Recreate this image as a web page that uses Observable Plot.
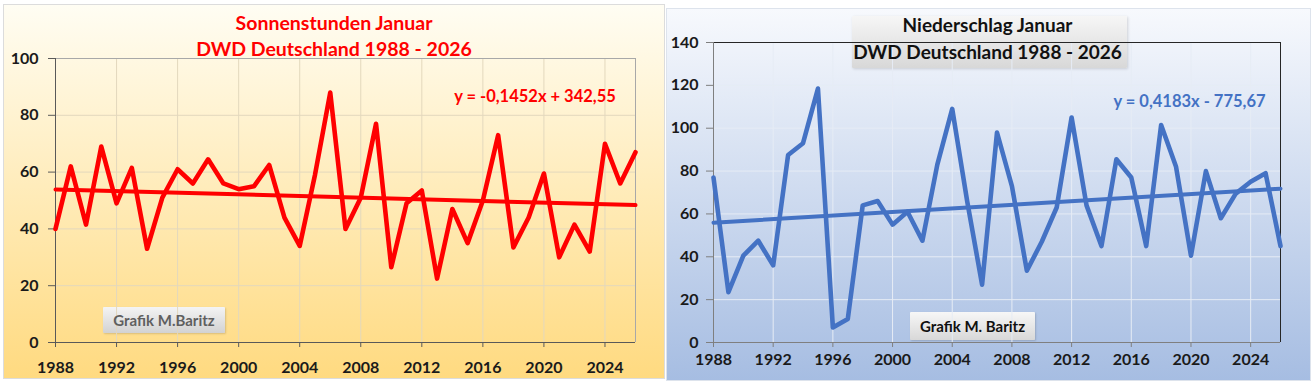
<!DOCTYPE html>
<html><head><meta charset="utf-8">
<script src="https://cdn.jsdelivr.net/npm/d3@7"></script>
<script src="https://cdn.jsdelivr.net/npm/@observablehq/plot@0.6"></script>
<style>
body{margin:0;width:1311px;height:382px;background:#fff;position:relative;overflow:hidden;font-family:Lato,"Open Sans",sans-serif;}
.panel{position:absolute;}
.panel svg{position:absolute;left:0;top:0;}
#p1{left:4px;top:5px;width:660px;height:373px;background:linear-gradient(#fffdf3,#ffda80);box-shadow:0 0 0 1px #dcdcdc;}
#p2{left:667px;top:9px;width:643px;height:371px;background:linear-gradient(#f7f9fd,#a6bde2);box-shadow:0 0 0 1px #dde3ec;}
.box{position:absolute;border-radius:1px;}
</style></head><body>
<div id="p1" class="panel"></div>
<div id="p2" class="panel"></div>
<script>
const years = [1988,1989,1990,1991,1992,1993,1994,1995,1996,1997,1998,1999,2000,2001,2002,2003,2004,2005,2006,2007,2008,2009,2010,2011,2012,2013,2014,2015,2016,2017,2018,2019,2020,2021,2022,2023,2024,2025,2026];
const sunshine = [40,62,41.5,69,49,61.5,33,51,61,56,64.5,56,54,55,62.5,44,34,59,88,40,51,77,26.5,49,53.5,22.5,47,35,50,73,33.5,44,59.5,30,41.5,32,70,56,67];
const precipitation = [77,23.5,40.5,47.5,36,87.5,93,118.5,7,11,64,66,55,61,47.5,83,109,66,27,98,73,33.5,47,63,105,64,45,85.5,77,45,101.5,82,40.5,80,58,69.5,75,79,45];
const xTicks = [1988,1992,1996,2000,2004,2008,2012,2016,2020,2024];
const yTicksSun = [0,20,40,60,80,100];
const yTicksRain = [0,20,40,60,80,100,120,140];
const sunTrend = {slope: -0.1452, intercept: 342.55, label: "y = -0,1452x + 342,55"};
const rainTrend = {slope: 0.4183, intercept: -775.67, label: "y = 0,4183x - 775,67"};
const titleSun = ["Sonnenstunden Januar", "DWD Deutschland 1988 - 2026"];
const titleRain = ["Niederschlag Januar", "DWD Deutschland 1988 - 2026"];
const creditSun = "Grafik M.Baritz";
const creditRain = "Grafik M. Baritz";

const FONT = "Lato, 'Open Sans', sans-serif";
const sunRows = years.map((y,i)=>({year:y, value:sunshine[i]}));
const rainRows = years.map((y,i)=>({year:y, value:precipitation[i]}));
const trendRows = (t)=>[years[0], years[years.length-1]].map(x=>({year:x, value:t.slope*x + t.intercept}));

function makeChart(cfg){
  return Plot.plot({
    width: cfg.width, height: cfg.height,
    marginLeft: cfg.ml, marginRight: cfg.mr, marginTop: cfg.mt, marginBottom: cfg.mb,
    style: {background: "transparent", fontFamily: FONT, overflow: "visible"},
    x: {domain: [1988, 2026], nice: false},
    y: {domain: cfg.ydomain, nice: false},
    marks: [
      Plot.gridY(cfg.yTicks, {stroke: cfg.grid, strokeOpacity: 1}),
      Plot.gridX(xTicks, {stroke: cfg.grid, strokeOpacity: 1}),
      Plot.ruleY([cfg.ydomain[1]], {stroke: cfg.frameTop, strokeWidth: 1}),
      Plot.ruleX([2026], {stroke: cfg.frameTop, strokeWidth: 1}),
      Plot.ruleX([1988], {stroke: cfg.axisColor}),
      Plot.ruleY([0], {stroke: cfg.axisColor}),
      Plot.axisY(cfg.yTicks, {tickSize: 7, tickPadding: cfg.yPad, fontSize: 16, fontWeight: "bold", fill: "#1a1a1a", stroke: cfg.axisColor, label: null}),
      Plot.axisX(xTicks, {tickSize: 5, tickPadding: cfg.xPad, fontSize: 16, fontWeight: "bold", fill: "#1a1a1a", stroke: cfg.axisColor, tickFormat: d=>String(d), label: null}),
      Plot.line(cfg.trend, {x: "year", y: "value", stroke: cfg.color, strokeWidth: 4}),
      Plot.line(cfg.rows, {x: "year", y: "value", stroke: cfg.color, strokeWidth: 4.6, strokeLinejoin: "round", strokeLinecap: "round"})
    ]
  });
}

function addText(svg, x, y, txt, opts){
  d3.select(svg).append("text").attr("x", x).attr("y", y).attr("text-anchor", opts.anchor||"middle")
    .attr("fill", opts.fill).attr("font-size", opts.size).attr("font-weight", "bold").attr("font-family", FONT).text(txt);
}

// Left chart
const p1 = document.getElementById("p1");
const c1 = makeChart({width:660, height:373, ml:51, mr:29, mt:53, mb:36, ydomain:[0,100], yTicks:yTicksSun,
  grid:"#e3d8bd", frameTop:"#a8a8a8", axisColor:"#595959", yPad:10, xPad:14, color:"#ff0000",
  rows:sunRows, trend:trendRows(sunTrend)});
const b1 = document.createElement("div"); b1.className="box";
Object.assign(b1.style,{left:"99px",top:"302px",width:"122px",height:"26px",background:"linear-gradient(#f4f4f4,#d2d2d2)",boxShadow:"1px 1px 2px rgba(0,0,0,0.15)"});
p1.appendChild(b1);
p1.appendChild(c1);
addText(c1, 330, 25, titleSun[0], {fill:"#ff0000", size:19.5});
addText(c1, 330, 51, titleSun[1], {fill:"#ff0000", size:19.5});
addText(c1, 531, 97, sunTrend.label, {fill:"#ff0000", size:16.5});
addText(c1, 160, 321, creditSun, {fill:"#5f5f5f", size:15});

// Right chart
const p2 = document.getElementById("p2");
const c2 = makeChart({width:643, height:371, ml:46, mr:30, mt:33, mb:38, ydomain:[0,140], yTicks:yTicksRain,
  grid:"#e6ecf5", frameTop:"#262626", axisColor:"#7f7f7f", yPad:8, xPad:6, color:"#4472c4",
  rows:rainRows, trend:trendRows(rainTrend)});
const b2 = document.createElement("div"); b2.className="box";
Object.assign(b2.style,{left:"185px",top:"7px",width:"275px",height:"52px",background:"linear-gradient(#f6f6f6,#d8d8d8)",boxShadow:"1px 1px 3px rgba(0,0,0,0.15)"});
const b3 = document.createElement("div"); b3.className="box";
Object.assign(b3.style,{left:"243px",top:"303px",width:"125px",height:"28px",background:"linear-gradient(#f7f7f7,#d8d8d8)",boxShadow:"1px 1px 2px rgba(0,0,0,0.15)"});
p2.appendChild(b2); p2.appendChild(b3);
p2.appendChild(c2);
addText(c2, 320.5, 23, titleRain[0], {fill:"#111", size:19});
addText(c2, 320.5, 50, titleRain[1], {fill:"#111", size:19});
addText(c2, 522.5, 98, rainTrend.label, {fill:"#4472c4", size:16.5});
addText(c2, 305.5, 323, creditRain, {fill:"#111", size:15});
</script>
</body></html>
